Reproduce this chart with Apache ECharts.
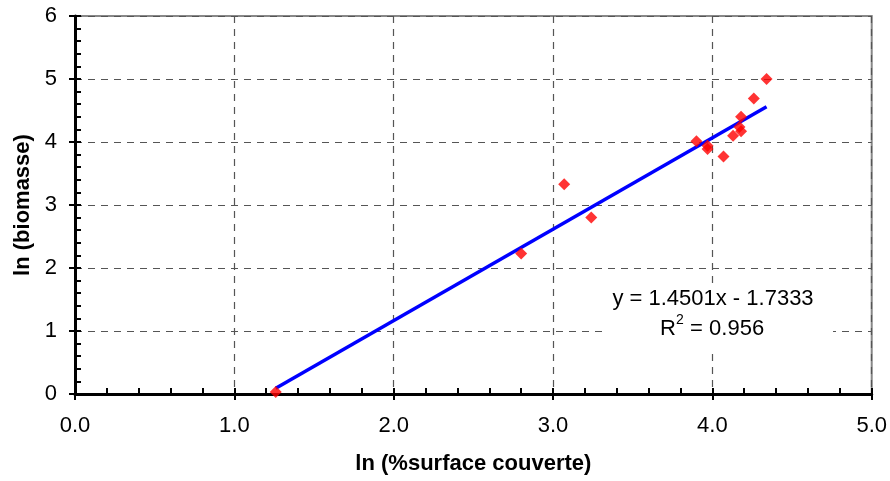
<!DOCTYPE html>
<html>
<head>
<meta charset="utf-8">
<script src="https://cdn.jsdelivr.net/npm/echarts@6/dist/echarts.min.js"></script>
<style>html,body{margin:0;padding:0;background:#fff}#c{width:890px;height:481px}</style>
</head>
<body>
<div id="c"></div>
<script>
// Observed points: ln(%surface couverte) vs ln(biomasse)
const xValues = [1.26, 2.80, 3.07, 3.24, 3.90, 3.97, 3.97, 4.07, 4.13, 4.18, 4.17, 4.18, 4.26, 4.34];
const yValues = [0.03, 2.23, 3.33, 2.80, 4.01, 3.94, 3.89, 3.77, 4.10, 4.17, 4.24, 4.40, 4.69, 5.00];
// Trend line endpoints
const trendX = [1.26, 4.34];
const trendY = [0.09, 4.56];
const xTickLabels = ['0.0', '1.0', '2.0', '3.0', '4.0', '5.0'];
const yTickLabels = ['0', '1', '2', '3', '4', '5', '6'];
const equationText = 'y = 1.4501x - 1.7333';
const r2Value = '0.956';
const xTitle = 'ln (%surface couverte)';
const yTitle = 'ln (biomasse)';

const chart = echarts.init(document.getElementById('c'), null, {renderer: 'canvas'});
const font = '"Liberation Sans", Arial, sans-serif';
const grid = {left: 75, right: 16, top: 16, bottom: 87, show: true, borderColor: '#888', borderWidth: 2, backgroundColor: 'transparent'};
const dash = {color: '#555', width: 1.2, type: [7, 6]};

function xLabel(v) { const i = Math.round(v); return (Math.abs(v - i) < 1e-6 && xTickLabels[i] !== undefined) ? xTickLabels[i] : ''; }
function yLabel(v) { const i = Math.round(v); return (Math.abs(v - i) < 1e-6 && yTickLabels[i] !== undefined) ? yTickLabels[i] : ''; }

chart.setOption({
  animation: false,
  grid: grid,
  xAxis: [{
    type: 'value', min: 0, max: 5, interval: 1,
    name: xTitle, nameLocation: 'middle', nameGap: 59,
    nameTextStyle: {fontFamily: font, fontWeight: 'bold', fontSize: 22, color: '#000'},
    axisLine: {show: true, lineStyle: {color: '#000', width: 3}},
    axisTick: {show: true, inside: true, length: 6, lineStyle: {color: '#000', width: 2}},
    minorTick: {show: true, splitNumber: 5, length: 6, lineStyle: {color: '#000', width: 2}},
    axisLabel: {formatter: xLabel, fontFamily: font, fontSize: 22, color: '#000', margin: 21},
    splitLine: {show: true, lineStyle: dash}
  }, {
    type: 'value', min: 0, max: 5, interval: 1, position: 'bottom',
    axisLine: {show: false},
    axisTick: {show: true, inside: false, length: 6, lineStyle: {color: '#000', width: 2}},
    axisLabel: {show: false}, splitLine: {show: false}
  }],
  yAxis: [{
    type: 'value', min: 0, max: 6, interval: 1,
    name: yTitle, nameLocation: 'middle', nameGap: 37,
    nameTextStyle: {fontFamily: font, fontWeight: 'bold', fontSize: 22, color: '#000'},
    axisLine: {show: true, lineStyle: {color: '#000', width: 3}},
    axisTick: {show: true, inside: true, length: 6, lineStyle: {color: '#000', width: 2}},
    minorTick: {show: true, splitNumber: 5, length: 6, lineStyle: {color: '#000', width: 2}},
    axisLabel: {formatter: yLabel, fontFamily: font, fontSize: 22, color: '#000', margin: 18},
    splitLine: {show: true, lineStyle: dash}
  }, {
    type: 'value', min: 0, max: 6, interval: 1, position: 'left',
    axisLine: {show: false},
    axisTick: {show: true, inside: false, length: 6, lineStyle: {color: '#000', width: 2}},
    axisLabel: {show: false}, splitLine: {show: false}
  }],
  series: [{
    type: 'line',
    data: trendX.map((x, i) => [x, trendY[i]]),
    symbol: 'none',
    lineStyle: {color: '#0000ff', width: 3.5},
    z: 3
  }, {
    type: 'scatter',
    data: xValues.map((x, i) => [x, yValues[i]]),
    symbol: 'diamond', symbolSize: [12, 12],
    itemStyle: {color: '#ff0000'},
    z: 4
  }],
  graphic: [{
    type: 'rect', z: 1, silent: true,
    shape: {x: 603, y: 283, width: 230, height: 70},
    style: {fill: '#fff'}
  }, {
    type: 'text', z: 2, x: 713, y: 299,
    style: {text: equationText, font: '22px ' + font, fill: '#000', textAlign: 'center', textVerticalAlign: 'middle'}
  }, {
    type: 'text', z: 2, x: 660, y: 329,
    style: {text: 'R', font: '22px ' + font, fill: '#000', textAlign: 'left', textVerticalAlign: 'middle'}
  }, {
    type: 'text', z: 2, x: 676, y: 320,
    style: {text: '2', font: '14px ' + font, fill: '#000', textAlign: 'left', textVerticalAlign: 'middle'}
  }, {
    type: 'text', z: 2, x: 684, y: 329,
    style: {text: ' = ' + r2Value, font: '22px ' + font, fill: '#000', textAlign: 'left', textVerticalAlign: 'middle'}
  }]
});
</script>
</body>
</html>
